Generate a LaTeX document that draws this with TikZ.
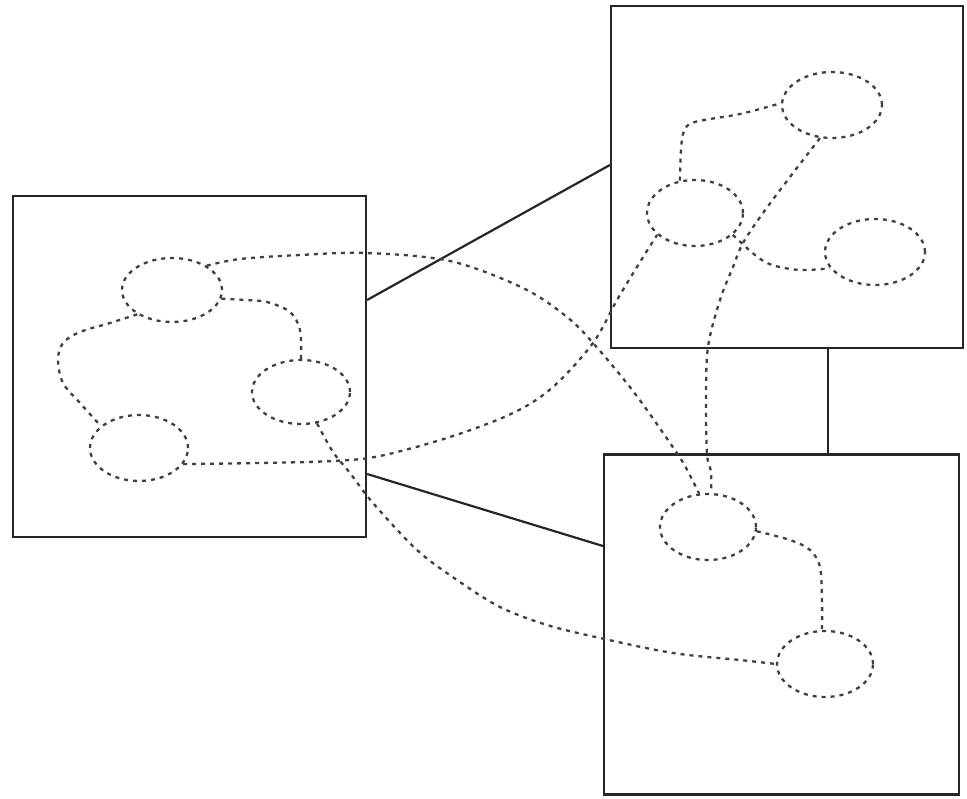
\documentclass[tikz,border=0pt]{standalone}
\usetikzlibrary{shapes.geometric}
\begin{document}
\begin{tikzpicture}[x=1pt,y=-1pt,
  frame/.style={draw=black!85,line width=2.2pt,rectangle,inner sep=0pt},
  link/.style={draw=black!85,line width=2.2pt},
  blob/.style={ellipse,draw=black!75,line width=2.3pt,dash pattern=on 4pt off 5pt,inner sep=0pt,minimum width=98pt,minimum height=66pt},
  dot/.style={draw=black!75,line width=2.3pt,dash pattern=on 4pt off 5pt}]
\useasboundingbox (0,0) rectangle (967,799);
% boxes
\node[frame,minimum width=353pt,minimum height=341pt] (L) at (189.5,366.5) {};
\node[frame,minimum width=352pt,minimum height=342pt] (TR) at (787,177) {};
\node[frame,minimum width=355pt,minimum height=340pt] (BR) at (781.5,624.5) {};
% solid links
\draw[link] (L.east |- 0,300) -- (TR.west |- 0,165);
\draw[link] (L.east |- 0,474) -- (BR.west |- 0,546);
\draw[link] (TR.south -| 828,0) -- (BR.north -| 828,0);
% ellipses
\node[blob,minimum width=100pt,minimum height=64pt] (e1) at (172,290) {};
\node[blob,minimum height=64pt] (e2) at (301,392) {};
\node[blob] (e3) at (139,448) {};
\node[blob,minimum width=100pt] (e4) at (832,105) {};
\node[blob,minimum width=96pt] (e5) at (695,213) {};
\node[blob,minimum width=100pt] (e6) at (875,252) {};
\node[blob,minimum width=96pt] (e7) at (708,527) {};
\node[blob,minimum width=96pt] (e8) at (825,664) {};
% dotted connectors
\draw[dot] plot[smooth,tension=0.55] coordinates {(e1.35) (240,259) (300,255) (366,253) (450,261) (523,288) (567,317) (593,343) (633,391) (670,443) (685,466) (e7.105)};
\draw[dot] plot[smooth,tension=0.55] coordinates {(e1.-10) (245,300) (267,302) (290,312) (300,330) (e2.north)};
\draw[dot] plot[smooth,tension=0.55] coordinates {(e1.215) (110,323) (80,332) (63,343) (58,360) (63,383) (80,403) (e3.150)};
\draw[dot] plot[smooth,tension=0.55] coordinates {(e3.-20) (260,463) (333,461) (380,456) (450,437) (513,413) (553,387) (593,343) (617,300) (640,262) (e5.210)};
\draw[dot] plot[smooth,tension=0.55] coordinates {(e2.-63) (333,452) (350,473) (373,503) (417,550) (457,580) (500,607) (547,625) (600,638) (673,653) (740,660) (e8.west)};
\draw[dot] plot[smooth,tension=0.55] coordinates {(e5.115) (681,150) (684,131) (695,122) (740,114) (e4.178)};
\draw[dot] plot[smooth,tension=0.55] coordinates {(e4.-110) (793,173) (763,213) (743,243) (733,267) (720,300) (708,347) (706,400) (707,454) (711,472) (e7.85)};
\draw[dot] plot[smooth,tension=0.55] coordinates {(e5.-30) (755,255) (772,265) (800,270) (e6.200)};
\draw[dot] plot[smooth,tension=0.55] coordinates {(e7.-5) (790,540) (810,550) (820,567) (822,600) (e8.95)};
\end{tikzpicture}
\end{document}
